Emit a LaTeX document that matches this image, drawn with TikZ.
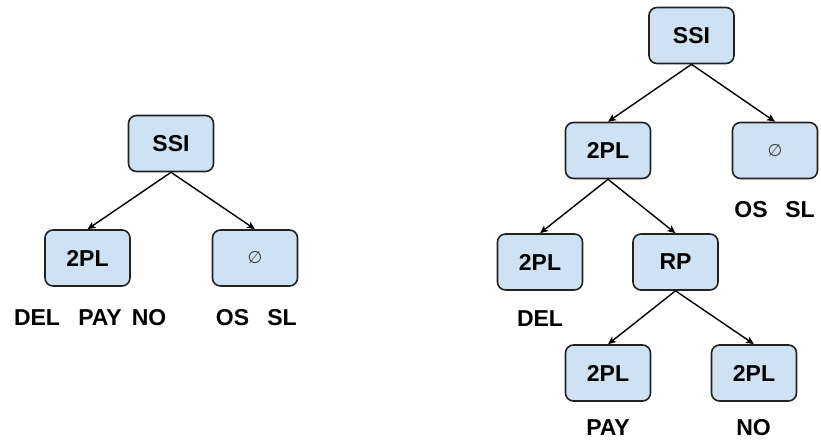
\documentclass[tikz,border=0pt]{standalone}
\usepackage{fontspec}
\setmainfont{Liberation Sans}
\newfontfamily\symfont{DejaVu Sans}
\usetikzlibrary{arrows.meta}
\definecolor{boxfill}{HTML}{CFE2F3}
\definecolor{boxline}{HTML}{222222}
\begin{document}
\begin{tikzpicture}[x=1pt,y=-1pt,
  box/.style={draw=boxline,fill=boxfill,line width=1.6pt,rounded corners=8pt,
    minimum width=85pt,minimum height=56pt,inner sep=0pt,
    font=\fontsize{23}{27}\selectfont\bfseries},
  emptybox/.style={box,font=\fontsize{17}{20}\selectfont\symfont,text=black!75},
  lbl/.style={anchor=base,inner sep=0pt,font=\fontsize{23}{27}\selectfont\bfseries},
  edge/.style={line width=1.4pt,-{Stealth[length=8pt,width=7pt,inset=2pt]}}]
\useasboundingbox (0,0) rectangle (821,447);

% left tree
\node[box] (lssi) at (171,143.5) {SSI};
\node[box] (l2pl) at (87.5,258) {2PL};
\node[emptybox] (lnil) at (255,258) {∅};
\draw[edge] (lssi.south) -- (l2pl.north);
\draw[edge] (lssi.south) -- (lnil.north);
\node[lbl] (ldel) at (37,325.5) {DEL};
\node[lbl] (lpay) at (100,325.5) {PAY};
\node[lbl] (lno)  at (149,325.5) {NO};
\node[lbl] (los)  at (232.5,325.5) {OS};
\node[lbl] (lsl)  at (282,325.5) {SL};

% right tree
\node[box] (rssi) at (691.5,35.5) {SSI};
\node[box] (r2pl) at (608,150.5) {2PL};
\node[emptybox] (rnil) at (775,150.5) {∅};
\node[box] (rdel) at (540,262) {2PL};
\node[box] (rrp)  at (675.5,262) {RP};
\node[box] (rpay) at (608,373) {2PL};
\node[box] (rno)  at (754,373) {2PL};
\draw[edge] (rssi.south) -- (r2pl.north);
\draw[edge] (rssi.south) -- (rnil.north);
\draw[edge] (r2pl.south) -- (rdel.north);
\draw[edge] (r2pl.south) -- (rrp.north);
\draw[edge] (rrp.south) -- (rpay.north);
\draw[edge] (rrp.south) -- (rno.north);
\node[lbl] (ros)  at (751,217.5) {OS};
\node[lbl] (rsl)  at (800,217.5) {SL};
\node[lbl] (rdell) at (540,326.5) {DEL};
\node[lbl] (rpayl) at (608,435.5) {PAY};
\node[lbl] (rnol)  at (753.5,435.5) {NO};
\end{tikzpicture}
\end{document}
